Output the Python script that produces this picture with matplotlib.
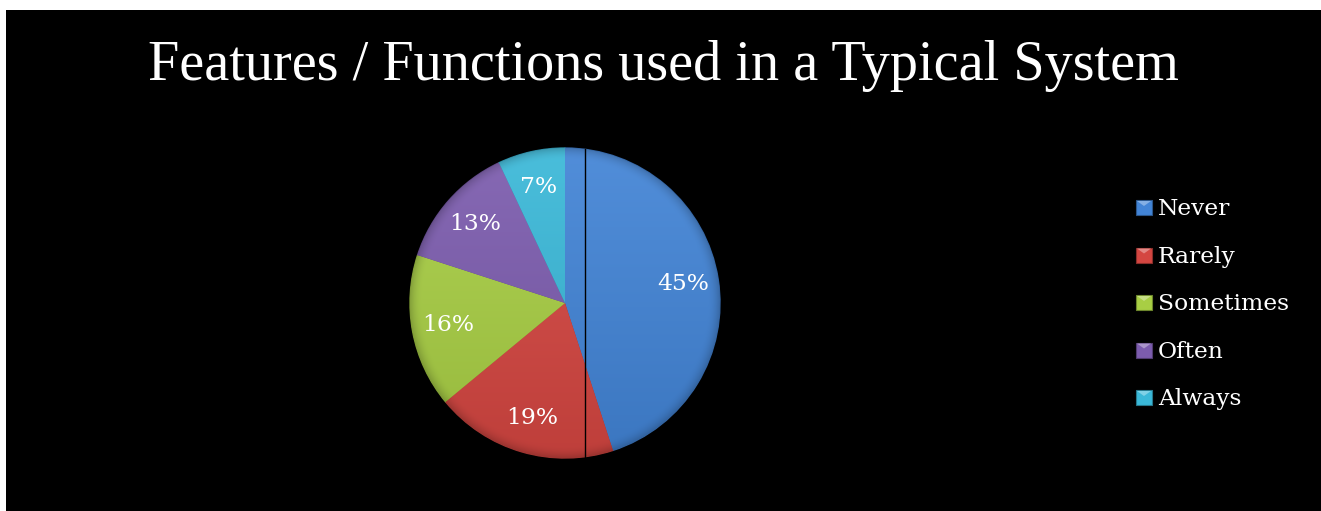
import numpy as np
import matplotlib.pyplot as plt
from matplotlib.patches import Rectangle, Polygon
from matplotlib.colors import to_rgb

# ---- data ----
categories = ["Never", "Rarely", "Sometimes", "Often", "Always"]
shares = [45, 19, 16, 13, 7]
colors = ["#4284D6", "#D44641", "#A8CE44", "#7C5CAE", "#3AB8D8"]
title = "Features / Functions used in a Typical System"

W, H = 1321, 511
SERIF = "DejaVu Serif"
TITLE_FONT = "Liberation Serif"


def shade(c, f):
    """Lighten (f > 0) or darken (f < 0) an RGB colour."""
    c = np.array(to_rgb(c))
    if f >= 0:
        return c + (1 - c) * f
    return c * (1 + f)


fig = plt.figure(figsize=(W / 100, H / 100), dpi=100, facecolor="black")
ax = fig.add_axes([0, 0, 1, 1])
ax.set_facecolor("black")

cx, cy, R = 565, H - 303, 155

wedges, texts, autotexts = ax.pie(
    shares, colors=colors, startangle=90, counterclock=False,
    center=(cx, cy), radius=R,
    autopct=lambda p: f"{p:.0f}%", pctdistance=0.77,
    wedgeprops=dict(linewidth=0),
    textprops=dict(color="white", fontsize=16.8, family=SERIF),
)

# shaded fill for each slice: light at top, darker toward the bottom and the rim
n = 400
gx, gy = np.meshgrid(np.linspace(-1, 1, n), np.linspace(1, -1, n))
rr = np.hypot(gx, gy)
vert = (gy + 1) / 2  # 1 at top, 0 at bottom
rim = np.clip((rr - 0.92) / 0.08, 0, 1)
for w, c in zip(wedges, colors):
    top = shade(c, 0.08)
    bot = shade(c, -0.10)
    img = top[None, None, :] * vert[..., None] + bot[None, None, :] * (1 - vert[..., None])
    img = img * (1 - 0.18 * rim[..., None] ** 2)
    im = ax.imshow(np.clip(img, 0, 1), extent=(cx - R, cx + R, cy - R, cy + R),
                   origin="upper", zorder=1.5, interpolation="bilinear")
    im.set_clip_path(w)
    w.set_edgecolor(tuple(shade(c, -0.25)))
    w.set_linewidth(1.0)
    w.set_zorder(1)

# thin dark seam across the pie
sx = cx + 20
half = np.sqrt(R ** 2 - 20 ** 2)
ax.plot([sx, sx], [cy - half, cy + half], color="black", lw=1.0, zorder=2)

for t in autotexts:
    t.set_zorder(3)

# title
ax.text(663, H - 80, title, ha="center", va="baseline", color="white",
        fontsize=40.5, family=TITLE_FONT)

# legend with bevelled swatches
lx, sw, base_y, step = 1136, 16, H - 215, 47.5
for i, (lab, c) in enumerate(zip(categories, colors)):
    y0 = base_y - i * step
    x0 = lx
    x1, y1 = x0 + sw, y0 + 15
    xm, ym = (x0 + x1) / 2, y0 + 9
    ax.add_patch(Rectangle((x0, y0), sw, 15, facecolor=c,
                           edgecolor=tuple(shade(c, -0.35)), lw=0.8, zorder=2))
    ax.add_patch(Polygon([(x0 + 1, y1 - 1), (x1 - 1, y1 - 1), (xm, ym)], closed=True,
                         facecolor=tuple(shade(c, 0.35)), edgecolor="none", zorder=2))
    ax.text(1158, y0, lab, ha="left", va="baseline", color="white",
            fontsize=16.8, family=SERIF)

ax.set_xlim(0, W)
ax.set_ylim(0, H)
ax.set_aspect("equal")
ax.axis("off")

# white margin along top and left edges
fig.patches.append(Rectangle((0, 1 - 10 / H), 1, 10 / H, transform=fig.transFigure,
                             facecolor="white", edgecolor="none", zorder=10))
fig.patches.append(Rectangle((0, 0), 6 / W, 1, transform=fig.transFigure,
                             facecolor="white", edgecolor="none", zorder=10))

fig.savefig("out.png", dpi=100, facecolor="black")
